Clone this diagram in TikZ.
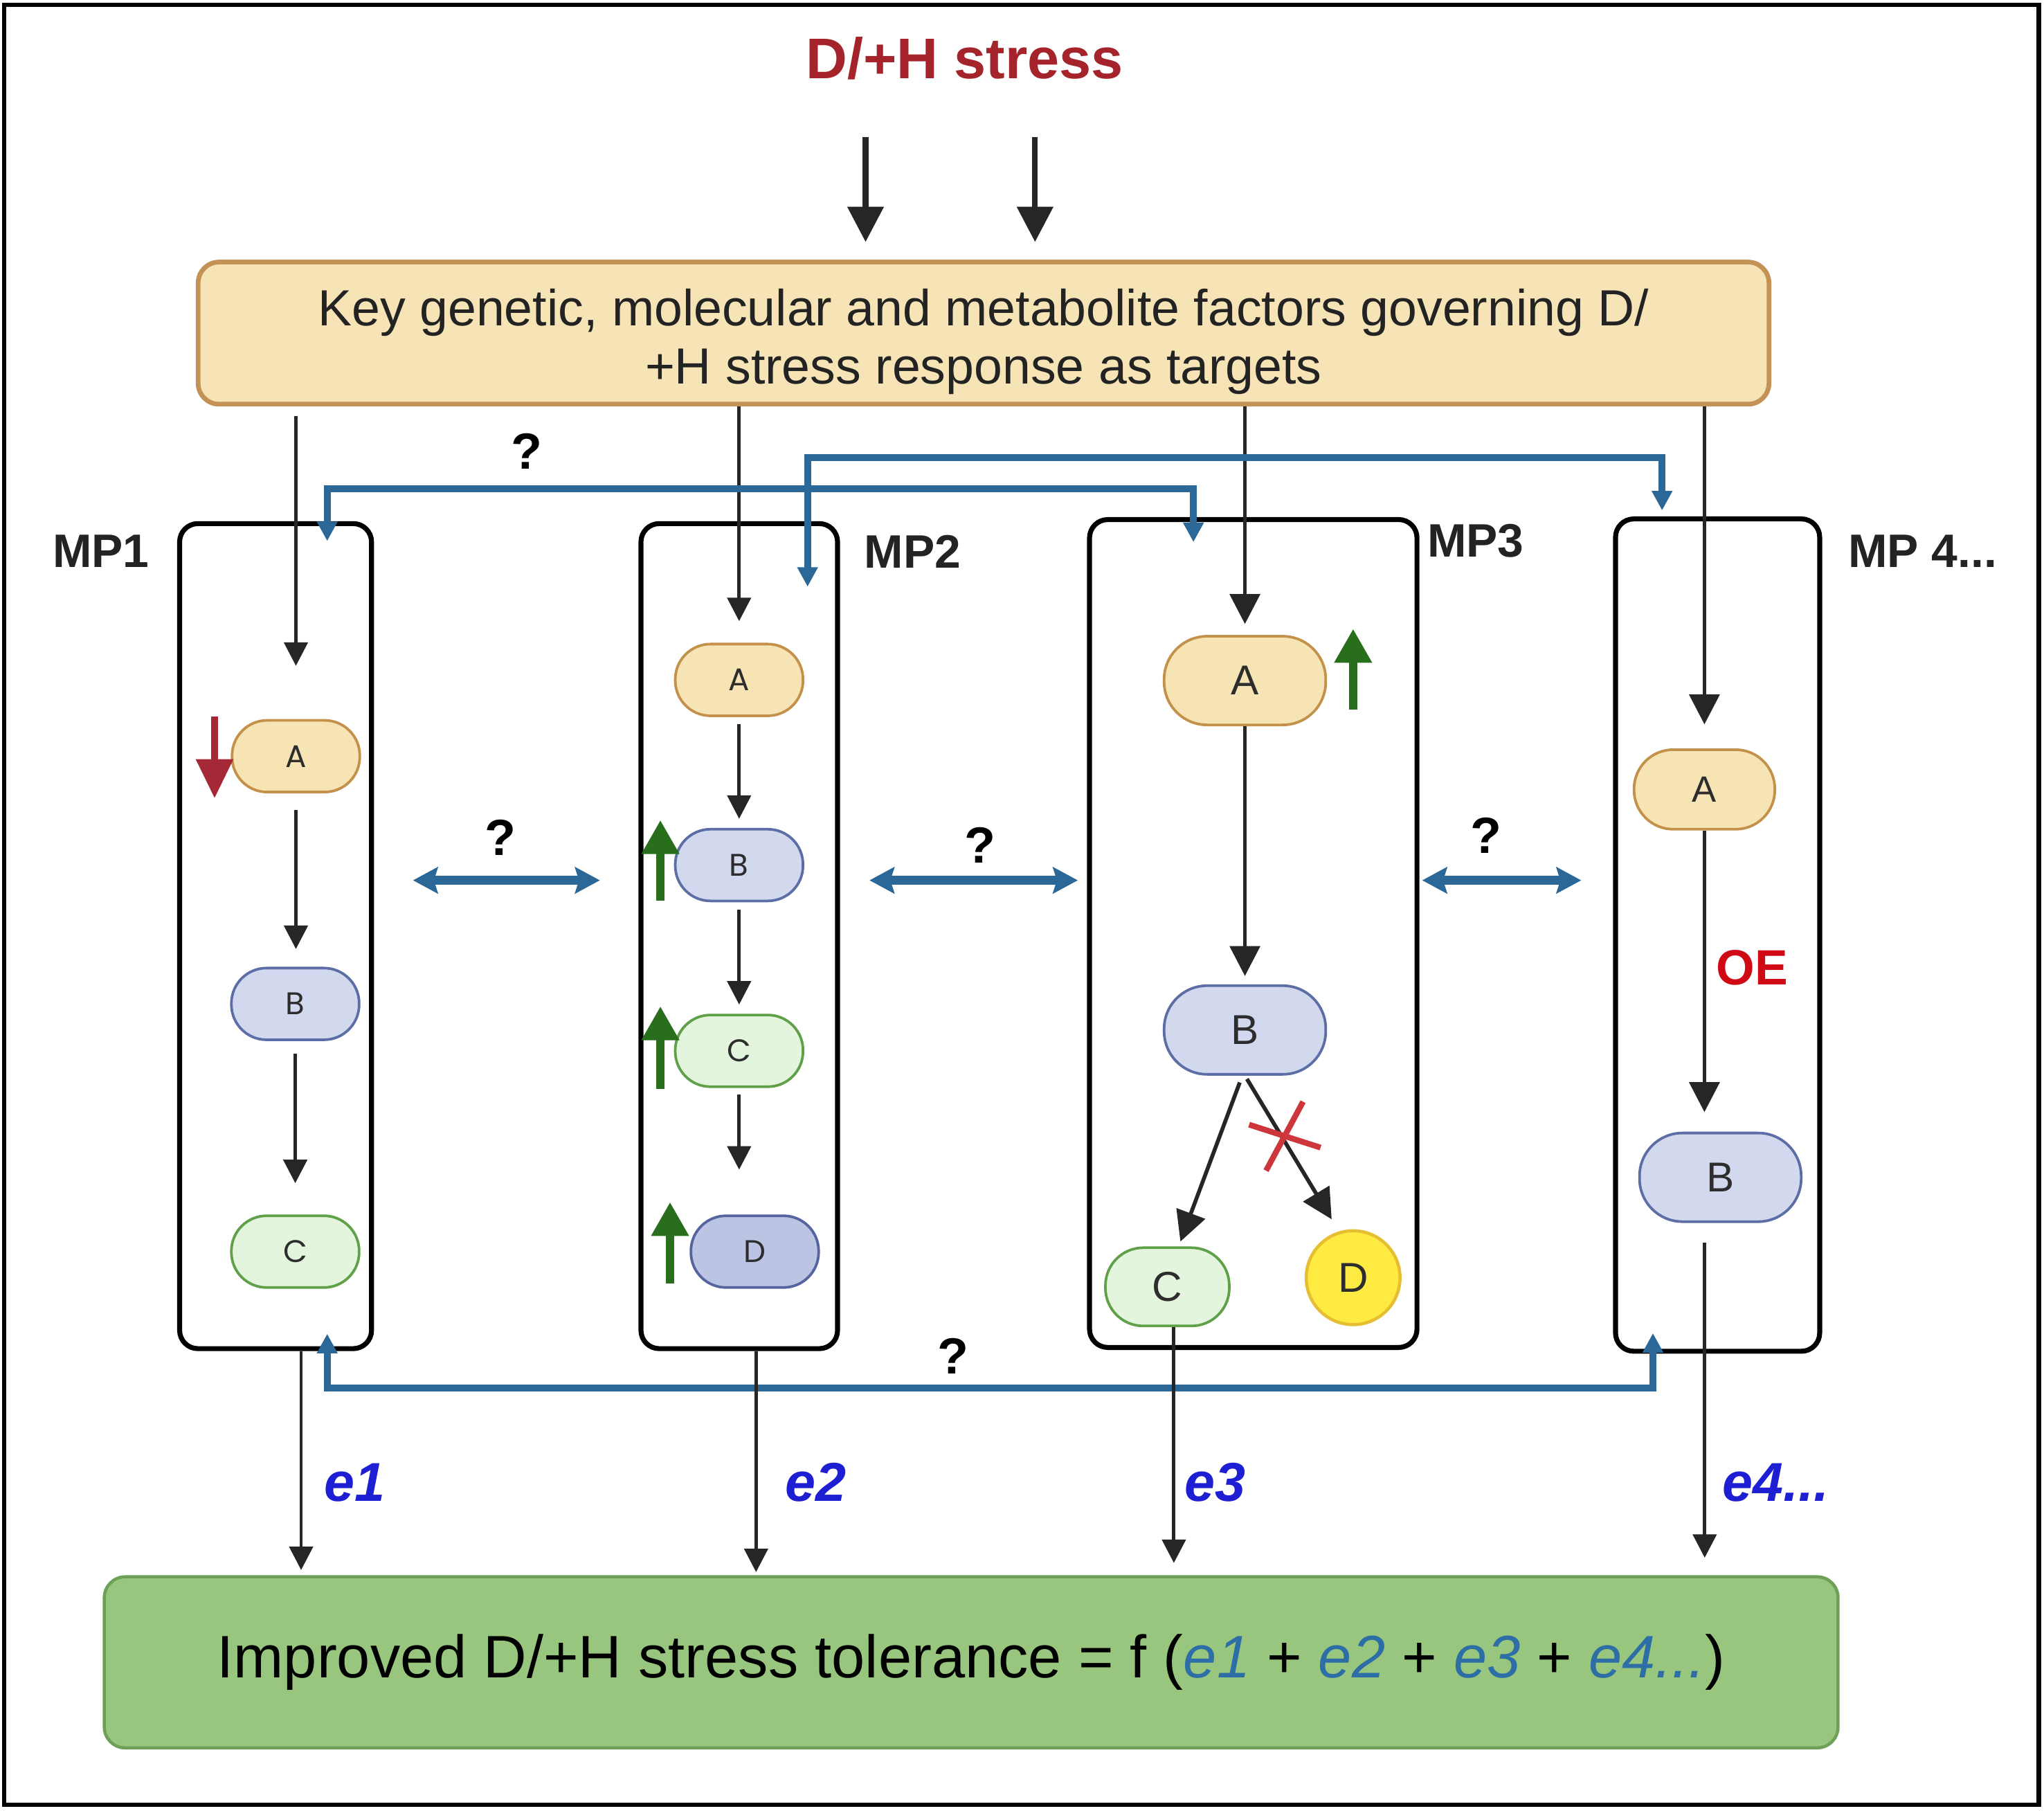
\documentclass[tikz,border=0pt]{standalone}
\usepackage{fontspec}
\setmainfont{Liberation Sans}
\newfontfamily\pillfont{Poppins}
\usetikzlibrary{arrows.meta,calc}
\definecolor{titlered}{RGB}{165,35,43}
\definecolor{tbfill}{RGB}{246,228,183}
\definecolor{tbdraw}{RGB}{196,146,84}
\definecolor{pAfill}{RGB}{246,228,180}
\definecolor{pAdraw}{RGB}{196,145,74}
\definecolor{pBfill}{RGB}{210,217,238}
\definecolor{pBdraw}{RGB}{92,110,165}
\definecolor{pCfill}{RGB}{228,245,222}
\definecolor{pCdraw}{RGB}{96,160,72}
\definecolor{pDfill}{RGB}{188,196,228}
\definecolor{pDdraw}{RGB}{85,100,158}
\definecolor{yelfill}{RGB}{254,234,64}
\definecolor{yeldraw}{RGB}{230,190,50}
\definecolor{connblue}{RGB}{43,104,152}
\definecolor{upgreen}{RGB}{40,110,28}
\definecolor{downred}{RGB}{165,40,55}
\definecolor{xred}{RGB}{205,55,60}
\definecolor{oered}{RGB}{208,10,20}
\definecolor{elabel}{RGB}{30,30,210}
\definecolor{eteal}{RGB}{44,110,165}
\definecolor{gbfill}{RGB}{152,198,126}
\definecolor{gbdraw}{RGB}{110,160,88}
\definecolor{pilltext}{RGB}{45,45,45}
\definecolor{darktext}{RGB}{35,35,35}
\begin{document}
\begin{tikzpicture}[x=0.5pt,y=-0.5pt,
  pill/.style={rectangle, line width=1pt, inner sep=0pt, text=pilltext},
  psmall/.style={pill, minimum width=49pt, minimum height=27.5pt, rounded corners=13.5pt, font=\pillfont\fontsize{12}{14}\selectfont},
  pmid/.style={pill, minimum width=54pt, minimum height=30.5pt, rounded corners=15pt, font=\fontsize{14}{16}\selectfont},
  pbig/.style={pill, minimum width=62pt, minimum height=34pt, rounded corners=16.5pt, font=\fontsize{16}{18}\selectfont},
  pcsm/.style={pill, minimum width=47.5pt, minimum height=30pt, rounded corners=14.5pt, font=\fontsize{16}{18}\selectfont},
  pA/.style={fill=pAfill, draw=pAdraw},
  pB/.style={fill=pBfill, draw=pBdraw},
  pC/.style={fill=pCfill, draw=pCdraw},
  pD/.style={fill=pDfill, draw=pDdraw},
  mpbox/.style={draw=black, line width=1.9pt, rounded corners=7pt, inner sep=0pt},
  mplabel/.style={font=\bfseries\fontsize{18}{20}\selectfont, text=darktext},
  qlabel/.style={font=\bfseries\fontsize{19.5}{22}\selectfont, text=black},
  elab/.style={font=\bfseries\itshape\fontsize{21}{24}\selectfont, text=elabel},
  blk/.style={draw=black!85, line width=1.3pt, -{Triangle[length=9pt,width=9pt]}},
  blkbig/.style={draw=black!85, line width=1.5pt, -{Triangle[length=11.5pt,width=11.5pt]}},
  stressarr/.style={draw=black!85, line width=2.2pt, -{Triangle[length=13.5pt,width=13.5pt]}},
  conn/.style={draw=connblue, line width=2.6pt, {Triangle[length=7.5pt,width=7.5pt]}-{Triangle[length=7.5pt,width=7.5pt]}},
  dbl/.style={draw=connblue, line width=3.4pt, {Stealth[length=9.5pt,width=10pt,inset=1.5pt]}-{Stealth[length=9.5pt,width=10pt,inset=1.5pt]}},
  gup/.style={draw=upgreen, line width=3.1pt, -{Triangle[length=13pt,width=13.7pt]}},
  rdown/.style={draw=downred, line width=2.7pt, -{Triangle[length=15pt,width=13.7pt]}}
]
\useasboundingbox (0,0) rectangle (1568,1388.6);
\draw[line width=1.6pt] (3,3.5) rectangle (1564,1384.5);

% title and top box
\node[anchor=base, font=\bfseries\fontsize{22}{26}\selectfont, text=titlered] (title) at (740,60.5) {D/+H stress};
\node[draw=tbdraw, fill=tbfill, line width=1.8pt, rounded corners=8pt, minimum width=602.5pt, minimum height=54.5pt] (tb) at (754.5,255.5) {};
\node[align=center, text=darktext, font=\fontsize{19.5}{22.5}\selectfont] (tbtext) at (754.5,262) {Key genetic, molecular and metabolite factors governing D/\\+H stress response as targets};
\coordinate (s1) at (664,105);
\coordinate (s2) at (794,105);
\draw[stressarr, shorten >=6.8pt] (s1) -- (s1 |- tb.north);
\draw[stressarr, shorten >=6.8pt] (s2) -- (s2 |- tb.north);

% MP boxes
\node[mpbox, minimum width=73.6pt, minimum height=316.4pt] (mp1) at (211.4,718) {};
\node[mpbox, minimum width=75.4pt, minimum height=316.4pt] (mp2) at (567.1,718) {};
\node[mpbox, minimum width=125.6pt, minimum height=317.5pt] (mp3) at (961.4,716) {};
\node[mpbox, minimum width=78.3pt, minimum height=319.2pt] (mp4) at (1317.6,717.2) {};
\node[mplabel] (l1) at (77.5,423) {MP1};
\node[mplabel] (l2) at (700,423) {MP2};
\node[mplabel] (l3) at (1132,415) {MP3};
\node[mplabel] (l4) at (1475,423) {MP 4...};

% pills MP1
\node[psmall, pA] (A1) at (227,580) {A};
\node[psmall, pB] (B1) at (226.5,770) {B};
\node[psmall, pC] (C1) at (226.5,960) {C};
% pills MP2
\node[psmall, pA] (A2) at (567,521.5) {A};
\node[psmall, pB] (B2) at (567,663.5) {B};
\node[psmall, pC] (C2) at (567,806) {C};
\node[psmall, pD] (D2) at (579,960) {D};
% pills MP3
\node[pbig, pA] (A3) at (955,522) {A};
\node[pbig, pB] (B3) at (955,790) {B};
\node[pcsm, pC] (C3) at (895.5,987) {C};
\node[circle, draw=yeldraw, fill=yelfill, line width=1.2pt, minimum size=36pt, inner sep=0pt, text=pilltext, font=\fontsize{16}{18}\selectfont] (D3) at (1038,980) {D};
% pills MP4
\node[pmid, pA] (A4) at (1307.5,605.5) {A};
\node[pbig, pB] (B4) at (1319.7,903) {B};

% arrows from top box
\draw[blk, shorten <=3.6pt, shorten >=20.4pt] (tb.south -| A1) -- (A1.north);
\draw[blk, shorten >=8.3pt] (tb.south -| A2) -- (A2.north);
\draw[blkbig, shorten >=4.2pt] (tb.south -| A3) -- (A3.north);
\draw[blkbig, shorten >=9.2pt] (tb.south -| A4) -- (A4.north);

% internal arrows
\draw[blk, shorten <=6.5pt, shorten >=6.8pt] (A1.south) -- (A1.south |- B1.north);
\draw[blk, shorten <=4.8pt, shorten >=12pt] (B1.south) -- (C1.north);
\draw[blk, shorten <=2.7pt, shorten >=3.5pt] (A2.south) -- (B2.north);
\draw[blk, shorten <=2.8pt, shorten >=3.5pt] (B2.south) -- (C2.north);
\draw[blk, shorten <=2.5pt, shorten >=17.2pt] (C2.south) -- (C2.south |- D2.north);
\draw[blkbig, shorten >=3.2pt] (A3.south) -- (B3.north);
\draw[blkbig, shorten <=2.8pt, shorten >=2pt] ([xshift=-1pt]B3.south) -- ([xshift=4.3pt]C3.north);
\draw[blkbig, shorten <=1.5pt, shorten >=5.4pt] (B3.south) -- (D3.107);
\draw[blkbig, shorten >=7.5pt] (A4.south) -- (A4.south |- B4.north);
\draw[xred, line width=2.2pt] (958.2,862.6) -- (1013,880.2) (999.6,845) -- (971.2,897.9);
\node[font=\bfseries\fontsize{19}{21}\selectfont, text=oered] (oe) at (1344,742) {OE};

% up/down regulation arrows
\draw[rdown] (164.6,549.6) -- (164.6,612.3);
\draw[gup] (506.6,691) -- (506.6,629);
\draw[gup] (506.6,835) -- (506.6,771.8);
\draw[gup] (514,984.6) -- (514,922);
\draw[gup] (1038,544.3) -- (1038,482.3);

% blue connectors
\coordinate (c1a) at (251,415);
\coordinate (c1b) at (915.5,415.8);
\coordinate (c2a) at (619.5,450);
\coordinate (c2b) at (1275,391.5);
\coordinate (c3a) at (251,1023);
\coordinate (c3b) at (1268,1022.5);
\draw[conn] (c1a) -- ++(0,-40) -| (c1b);
\draw[conn] (c2a) -- ++(0,-99) -| (c2b);
\draw[conn] (c3a) -- ++(0,41.6) -| (c3b);
\coordinate (h1a) at (316.8,675.2);
\coordinate (h1b) at (460.2,675.2);
\coordinate (h2a) at (667,675.2);
\coordinate (h2b) at (826.8,675.2);
\coordinate (h3a) at (1091,675.2);
\coordinate (h3b) at (1213,675.2);
\draw[dbl] (h1a) -- (h1b);
\draw[dbl] (h2a) -- (h2b);
\draw[dbl] (h3a) -- (h3b);
\node[qlabel] (q1) at (384,642.5) {?};
\node[qlabel] (q2) at (752,648) {?};
\node[qlabel] (q3) at (1140,641) {?};
\node[qlabel] (q4) at (404,346) {?};
\node[qlabel] (q5) at (731,1040) {?};

% bottom box
\node[draw=gbdraw, fill=gbfill, line width=1.2pt, rounded corners=8pt, minimum width=665pt, minimum height=65.6pt, text=black, font=\fontsize{23}{26}\selectfont] (gb) at (745,1275) {Improved D/+H stress tolerance = f (\textcolor{eteal}{\itshape e1} + \textcolor{eteal}{\itshape e2} + \textcolor{eteal}{\itshape e3} + \textcolor{eteal}{\itshape e4...})};

% arrows to bottom box
\coordinate (x1) at (231,0);
\coordinate (x2) at (580,0);
\draw[blk, shorten >=2pt] (mp1.south -| x1) -- (gb.north -| x1);
\draw[blk, shorten >=1.2pt] (mp2.south -| x2) -- (gb.north -| x2);
\draw[blk, shorten >=4.7pt] ([xshift=2.5pt]C3.south) -- ([xshift=2.5pt]C3.south |- gb.north);
\draw[blk, shorten <=7.6pt, shorten >=6.7pt] ([xshift=-6pt]B4.south) -- ([xshift=-6pt]B4.south |- gb.north);
\node[elab] (e1) at (272,1137) {e1};
\node[elab] (e2) at (626,1137) {e2};
\node[elab] (e3) at (932,1137) {e3};
\node[elab] (e4) at (1362,1137) {e4...};
\end{tikzpicture}
\end{document}
